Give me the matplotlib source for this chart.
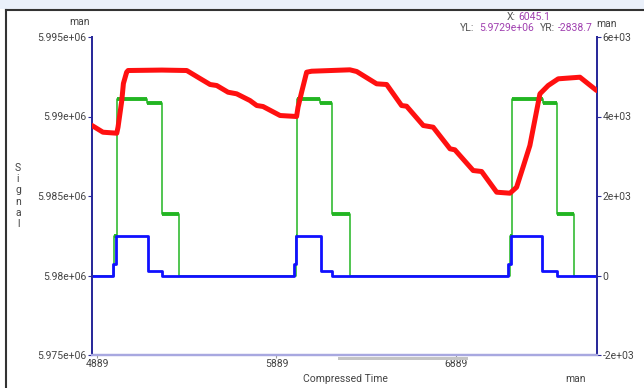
import numpy as np
import matplotlib
matplotlib.use("Agg")
import matplotlib.pyplot as plt
from matplotlib.patches import Rectangle

plt.rcParams['font.family'] = ['Roboto', 'DejaVu Sans']

# Red trace (left axis, Signal)
red_x = [4861, 4922, 4999, 5006, 5027, 5036, 5054, 5062, 5250, 5389, 5463, 5519,
         5556, 5619, 5667, 5741, 5779, 5814, 5909, 6001, 6009, 6029, 6057, 6085,
         6298, 6336, 6447, 6503, 6586, 6614, 6707, 6762, 6856, 6883, 6985, 7032,
         7116, 7190, 7227, 7264, 7301, 7339, 7357, 7403, 7459, 7580, 7673]
red_y = [5989434, 5989012, 5988949, 5989327, 5991006, 5992075, 5992786, 5992892,
         5992920, 5992892, 5992389, 5992012, 5991949, 5991528, 5991427, 5991006,
         5990691, 5990628, 5990062, 5990000, 5990584, 5991528, 5992786, 5992848,
         5992936, 5992830, 5992056, 5992012, 5990691, 5990647, 5989434, 5989327,
         5987968, 5987905, 5986603, 5986541, 5985239, 5985176, 5985553, 5986855,
         5988176, 5990377, 5991427, 5991949, 5992370, 5992471, 5991635]

# Green step trace (right axis)
green_x = [4861, 4985, 4999, 5166, 5249, 5346, 5995, 6001, 6131, 6200, 6298,
           7190, 7199, 7375, 7450, 7546, 7675]
green_y = [0, 1000, 4430, 4330, 1540, 0, 1000, 4430, 4330, 1540, 0,
           1000, 4430, 4330, 1540, 0, 0]

# Blue step trace (right axis)
blue_x = [4861, 4980, 4995, 5175, 5249, 5986, 5998, 6135, 6196, 7180, 7194,
          7366, 7450, 7675]
blue_y = [0, 300, 1000, 110, 0, 300, 1000, 110, 0, 300, 1000, 110, 0, 0]

x_ticks = [4889, 5889, 6889]
x_labels = ['4889', '5889', '6889']
left_ticks = [5.975e6, 5.98e6, 5.985e6, 5.99e6, 5.995e6]
left_labels = ['5.975e+06', '5.98e+06', '5.985e+06', '5.99e+06', '5.995e+06']
right_ticks = [-2000, 0, 2000, 4000, 6000]
right_labels = ['-2e+03', '0', '2e+03', '4e+03', '6e+03']

W, H = 644, 388
fig = plt.figure(figsize=(W / 100, H / 100), dpi=100)
fig.patch.set_facecolor('white')

# window decoration
fig.patches.append(Rectangle((0, 1 - 9 / H), 1, 9 / H, transform=fig.transFigure,
                             facecolor='#eaf0fa', edgecolor='none'))
fig.add_artist(plt.Line2D([6 / W, 1], [1 - 10 / H, 1 - 10 / H], color='#333333', lw=1.5))
fig.add_artist(plt.Line2D([6 / W, 6 / W], [0, 1 - 10 / H], color='#333333', lw=1.5))

ax = fig.add_axes([92 / W, 1 - 355 / H, (597 - 92) / W, (355 - 37) / H])
ax2 = ax.twinx()

navy = '#2a2a9a'
ax.set_xlim(4861, 7675)
ax.set_ylim(5.975e6, 5.995e6)
ax2.set_ylim(-2000, 6000)

# green and blue on the right axis
gx = np.array(green_x)
gy = np.array(green_y)
up = gy[:-1] > 0
ax2.step(green_x, green_y, where='post', color='#22b522', lw=1.1, zorder=2)
ax2.hlines(gy[:-1][up], gx[:-1][up], gx[1:][up], color='#22b522', lw=2.8, zorder=2)
ax2.step(blue_x, blue_y, where='post', color='#1010ff', lw=2.0, zorder=3)

# red on the left axis, drawn on top
ax.plot(red_x, red_y, color='#ff1010', lw=3.6, solid_capstyle='round', zorder=4)
ax.set_zorder(ax2.get_zorder() + 1)
ax.patch.set_visible(False)

for a in (ax, ax2):
    a.spines['top'].set_visible(False)
    a.spines['left'].set_color(navy)
    a.spines['right'].set_color(navy)
    a.spines['left'].set_linewidth(1.4)
    a.spines['right'].set_linewidth(1.4)
    a.spines['bottom'].set_color('#a8a8e0')
    a.spines['bottom'].set_linewidth(1.6)

ax.set_yticks(left_ticks)
ax.set_yticklabels(left_labels)
ax2.set_yticks(right_ticks)
ax2.set_yticklabels(right_labels)
ax.set_xticks(x_ticks)
ax.set_xticklabels(x_labels)
ax.tick_params(axis='y', colors=navy, labelcolor='#444444', labelsize=7.5,
               length=3, width=0.8, pad=1)
ax2.tick_params(axis='y', colors=navy, labelcolor='#444444', labelsize=7.5,
                length=3, width=0.8, pad=1)
ax.tick_params(axis='x', colors='#999999', labelcolor='#444444', labelsize=7.5,
               length=2, width=0.8, pad=1)

# scroll indicator under the x axis
fig.patches.append(Rectangle((338 / W, 1 - 360 / H), 130 / W, 3 / H, transform=fig.transFigure,
                             facecolor='#c4c4c4', edgecolor='none'))

fs = 7.5
fig.text(80 / W, 1 - 22 / H, 'man', ha='center', va='center', fontsize=fs, color='#444444')
fig.text(596 / W, 1 - 24 / H, 'man', ha='left', va='center', fontsize=fs, color='#444444')
fig.text(576 / W, 1 - 379 / H, 'man', ha='center', va='center', fontsize=fs, color='#444444')
fig.text(345 / W, 1 - 379 / H, 'Compressed Time', ha='center', va='center', fontsize=fs,
         color='#444444')
fig.text(18 / W, 1 - 196 / H, 'S\ni\ng\nn\na\nl', ha='center', va='center', fontsize=fs,
         color='#444444', linespacing=1.15)

purple = '#a040b0'
fig.text(507 / W, 1 - 17 / H, 'X:', ha='left', va='center', fontsize=fs, color='#555555')
fig.text(518 / W, 1 - 17 / H, '6045.1', ha='left', va='center', fontsize=fs, color=purple)
fig.text(460 / W, 1 - 28 / H, 'YL:', ha='left', va='center', fontsize=fs, color='#555555')
fig.text(479 / W, 1 - 28 / H, '5.9729e+06', ha='left', va='center', fontsize=fs, color=purple)
fig.text(540 / W, 1 - 28 / H, 'YR:', ha='left', va='center', fontsize=fs, color='#555555')
fig.text(558 / W, 1 - 28 / H, '-2838.7', ha='left', va='center', fontsize=fs, color=purple,
         bbox=dict(facecolor='white', edgecolor='none', pad=0))

fig.savefig('out.png', dpi=100)
